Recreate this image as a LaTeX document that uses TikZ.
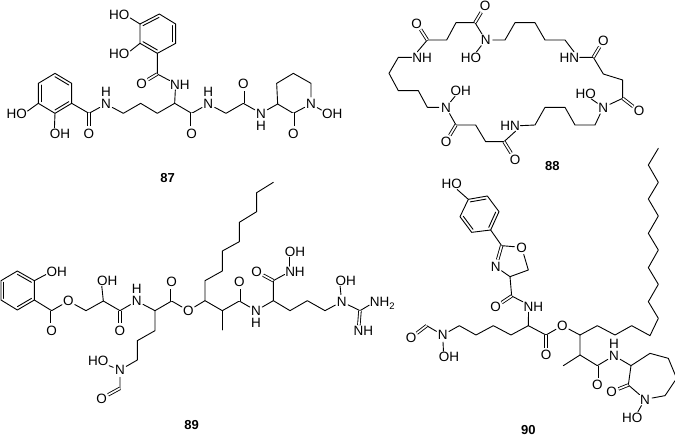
\documentclass[tikz,border=0pt]{standalone}
\usepackage{fontspec}
\setmainfont{Liberation Sans}
\usetikzlibrary{calc}
\tikzset{
  lab/.style={font=\fontsize{13.5}{13.5}\selectfont,text height=9.7pt,text depth=0pt},
  bond/.style={line width=.9pt,line cap=round,line join=round},
  dbl/.style={line width=.85pt,double,double distance=1.7pt},
  atom/.style={lab,circle,inner sep=0pt,minimum size=14pt},
  grp/.style={lab,rectangle,inner sep=.5pt},
  hyd/.style={lab,inner sep=0pt},
  cpd/.style={inner sep=0pt,font=\fontsize{13}{13}\selectfont\bfseries},
  zoomed/.style={x=.33333pt,y=-.33333pt}
}
\newcommand{\Cs}[1]{\foreach \n/\x/\y in {#1} {\coordinate (\n) at (\x,\y);}}
\newcommand{\inbond}[3]{\draw[bond] ($(#1)!.17!(#3)$) -- ($(#2)!.17!(#3)$);}
\newcommand{\subtwo}{\raisebox{-2.5pt}{\fontsize{9.5}{9.5}\selectfont 2}}
\begin{document}
\begin{tikzpicture}[x=1pt,y=-1pt]
\useasboundingbox (0,0) rectangle (675,437);
\fill[white] (0,0) rectangle (675,437);
% ---------- 87 ----------
\begin{scope}[zoomed]
\Cs{a1/478/42,a2/527/72,a3/527/130,a4/472/160,a5/420/130,a6/420/72,ac/473/101,
a7/472/222,a8/524/310,a9/575/340,a10/678/340,a11/730/310,a12/833/312,a13/880/340,
a14/933/250,a15/880/220,a16/830/250,
b1/115/250,b2/165/220,b3/215/250,b4/215/310,b5/165/340,b6/115/310,bc/165/280,
b7/267/340,b8/370/340,b9/422/310,b10/472/340}
\node[grp] (aho1) at (358,45) {HO};
\node[grp] (aho2) at (358,162) {HO};
\node[atom] (ao1) at (425,250) {O};
\node[grp] (anh1) at (540,253) {NH};
\node[atom] (ao2) at (575,400) {O};
\node[atom] (an2) at (625,312) {N};
\node[hyd] (ah2) at (625,275) {H};
\node[atom] (ao3) at (730,252) {O};
\node[atom] (an3) at (783,340) {N};
\node[hyd] (ah3) at (783,378) {H};
\node[atom] (ao4) at (880,400) {O};
\node[atom] (an4) at (933,312) {N};
\node[grp] (aoh) at (997,342) {OH};
\node[grp] (bho) at (50,342) {HO};
\node[grp] (boh) at (180,400) {OH};
\node[atom] (bo1) at (267,400) {O};
\node[atom] (bn) at (318,312) {N};
\node[hyd] (bh) at (318,275) {H};
\node[cpd] (l87) at (503,533) {87};
\draw[bond] (a1) -- (a2) -- (a3) -- (a4) -- (a5) -- (a6) -- cycle;
\inbond{a6}{a1}{ac}\inbond{a2}{a3}{ac}\inbond{a4}{a5}{ac}
\draw[bond] (a6) -- (aho1.-15);
\draw[bond] (a5) -- (aho2.15);
\draw[bond] (a4) -- (a7) -- (anh1.160);
\draw[dbl] (a7) -- (ao1);
\draw[bond] (anh1.-130) -- (a8) -- (a9) -- (an2) -- (a10) -- (a11) -- (an3) -- (a12) -- (a13) -- (an4) -- (a14) -- (a15) -- (a16) -- (a12);
\draw[dbl] (a9) -- (ao2);
\draw[dbl] (a11) -- (ao3);
\draw[dbl] (a13) -- (ao4);
\draw[bond] (an4) -- (aoh.160);
\draw[bond] (b1) -- (b2) -- (b3) -- (b4) -- (b5) -- (b6) -- cycle;
\inbond{b2}{b3}{bc}\inbond{b4}{b5}{bc}\inbond{b6}{b1}{bc}
\draw[bond] (b6) -- (bho.15);
\draw[bond] (b5) -- (boh.135);
\draw[bond] (b4) -- (b7) -- (bn) -- (b8) -- (b9) -- (b10) -- (a8);
\draw[dbl] (b7) -- (bo1);
\end{scope}
% ---------- 88 ----------
\begin{scope}[shift={(340pt,0pt)},zoomed]
\Cs{c1/262/120,c2/320/120,c3/348/68,c4/405/68,c5/495/120,c6/525/68,c7/585/68,c8/615/120,c9/675/120,
c10/760/172,c11/790/222,c12/848/240,c13/848/295,c14/765/375,c15/705/375,c16/675/322,c17/615/322,c18/585/375,
c19/492/425,c20/437/425,c21/407/375,c22/348/375,c23/262/322,c24/235/272,c25/175/272,c26/147/220,c27/175/172}
\node[atom] (co1) at (230,70) {O};
\node[grp] (cnh1) at (246,172) {NH};
\node[atom] (co2) at (435,18) {O};
\node[atom] (cn1) at (437,120) {N};
\node[grp] (cho1) at (393,172) {HO};
\node[grp] (chn1) at (688,172) {HN};
\node[atom] (co3) at (790,122) {O};
\node[atom] (co4) at (897,333) {O};
\node[atom] (cn2) at (790,322) {N};
\node[grp] (cho2) at (737,280) {HO};
\node[grp] (chn2) at (510,377) {HN};
\node[atom] (co5) at (525,478) {O};
\node[atom] (co6) at (318,425) {O};
\node[atom] (cn3) at (318,322) {N};
\node[grp] (coh3) at (362,272) {OH};
\node[cpd] (l88) at (637,497) {88};
\draw[bond] (cnh1.130) -- (c1) -- (c2) -- (c3) -- (c4) -- (cn1) -- (c5) -- (c6) -- (c7) -- (c8) -- (c9) -- (chn1.50);
\draw[bond] (chn1.east) -- (c10) -- (c11) -- (c12) -- (c13) -- (cn2) -- (c14) -- (c15) -- (c16) -- (c17) -- (c18) -- (chn2.east);
\draw[bond] (chn2.-45) -- (c19) -- (c20) -- (c21) -- (c22) -- (cn3) -- (c23) -- (c24) -- (c25) -- (c26) -- (c27) -- (cnh1.west);
\draw[dbl] (c1) -- (co1);
\draw[dbl] (c4) -- (co2);
\draw[dbl] (c10) -- (co3);
\draw[dbl] (c13) -- (co4);
\draw[dbl] (c19) -- (co5);
\draw[dbl] (c22) -- (co6);
\draw[bond] (cn1) -- (cho1.45);
\draw[bond] (cn2) -- (cho2.-45);
\draw[bond] (cn3) -- (coh3.-135);
\end{scope}
% ---------- 89 ----------
\begin{scope}[shift={(0pt,-190pt)},zoomed]
\Cs{e1/52/243,e2/103/272,e3/103/330,e4/52/360,e5/3/330,e6/3/272,ec/53/301,
e7/155/362,e8/258/362,e9/310/333,e10/360/362,e11/465/362,e12/515/333,
e13/465/422,e14/412/452,e15/412/510,e16/360/595}
\node[grp] (eoh1) at (170,245) {OH};
\node[atom] (eo1) at (155,422) {O};
\node[atom] (eo2) at (205,333) {O};
\node[grp] (eoh2) at (322,272) {OH};
\node[atom] (eo3) at (360,422) {O};
\node[atom] (en1) at (410,333) {N};
\node[hyd] (eh1) at (410,297) {H};
\node[atom] (eo4) at (515,275) {O};
\node[atom] (eo5) at (565,362) {O};
\node[atom] (en2) at (360,540) {N};
\node[grp] (eho) at (295,512) {HO};
\node[atom] (eo6) at (305,625) {O};
\node[cpd] (l89) at (575,705) {89};
\end{scope}
\begin{scope}[shift={(190pt,-190pt)},zoomed]
\Cs{f1/45/332,f2/45/272,f3/97/243,f4/97/183,f5/148/155,f6/148/97,f7/200/65,f8/200/8,f9/250/-23,
f10/97/362,f11/97/420,f12/148/333,f13/250/332,f14/250/272,f15/300/362,f16/352/332,f17/405/362,f18/510/362}
\node[atom] (fo1) at (148,275) {O};
\node[atom] (fn1) at (198,362) {N};
\node[hyd] (fh1) at (198,398) {H};
\node[atom] (fo2) at (200,245) {O};
\node[grp] (fnh) at (315,245) {NH};
\node[grp] (foh1) at (315,185) {OH};
\node[atom] (fn2) at (455,335) {N};
\node[grp] (foh2) at (467,272) {OH};
\node[grp] (fnh2) at (577,335) {NH\subtwo};
\node[grp] (fnh3) at (520,422) {NH};
\end{scope}
\draw[bond] (e1) -- (e2) -- (e3) -- (e4) -- (e5) -- (e6) -- cycle;
\inbond{e1}{e2}{ec}\inbond{e3}{e4}{ec}\inbond{e5}{e6}{ec}
\draw[bond] (e2) -- (eoh1.195);
\draw[bond] (e3) -- (e7) -- (eo2) -- (e8) -- (e9) -- (e10) -- (en1) -- (e11) -- (e12) -- (eo5) -- (f1) -- (f2) -- (f3) -- (f4) -- (f5) -- (f6) -- (f7) -- (f8) -- (f9);
\draw[dbl] (e7) -- (eo1);
\draw[bond] (e9) -- (eoh2.-135);
\draw[dbl] (e10) -- (eo3);
\draw[dbl] (e12) -- (eo4);
\draw[bond] (e11) -- (e13) -- (e14) -- (e15) -- (en2) -- (e16);
\draw[bond] (en2) -- (eho.-25);
\draw[dbl] (e16) -- (eo6);
\draw[bond] (f1) -- (f10) -- (f12) -- (fn1) -- (f13) -- (f14) -- (fnh.195);
\draw[bond] (f10) -- (f11);
\draw[dbl] (f12) -- (fo1);
\draw[dbl] (f14) -- (fo2);
\draw[bond] (fnh.135) -- (foh1.-135);
\draw[bond] (f13) -- (f15) -- (f16) -- (f17) -- (fn2) -- (f18) -- (fnh2.195);
\draw[bond] (fn2) -- (foh2.-135);
\draw[dbl] (f18) -- (fnh3.129);
% ---------- 90 ----------
\begin{scope}[shift={(400pt,-170pt)},zoomed]
\Cs{g1/205/88,g2/262/78,g3/297/125,g4/272/180,g5/215/187,g6/180/140,gc/238/133,
g7/305/227,g8/385/300,g9/330/320,g10/335/378,g11/385/467,g12/438/495,g13/333/495,g14/280/467,g15/228/495,g16/178/467,
g17/80/467,g18/540/495,g19/540/555,g20/490/587,g21/592/587,g22/693/587,g23/685/645,g24/795/677,g25/830/625,g26/805/565,g27/750/550,
h1/592/467,h2/645/495,h3/695/467,h4/750/497,h5/775/445,h6/745/395,h7/775/343,h8/745/293,h9/775/240,h10/745/190,h11/775/138,h12/745/87,h13/775/37,h14/745/-15,h15/775/-65}
\node[grp] (dho) at (155,42) {HO};
\node[atom] (do1) at (365,232) {O};
\node[atom] (dn1) at (287,290) {N};
\node[atom] (do2) at (287,410) {O};
\node[grp] (dnh) at (400,410) {NH};
\node[atom] (do3) at (438,555) {O};
\node[atom] (do4) at (487,467) {O};
\node[atom] (dn2) at (128,495) {N};
\node[grp] (doh) at (147,560) {OH};
\node[atom] (do5) at (33,503) {O};
\node[atom] (do6) at (592,645) {O};
\node[atom] (dn3) at (642,557) {N};
\node[hyd] (dh3) at (642,520) {H};
\node[atom] (do7) at (635,665) {O};
\node[atom] (dn4) at (735,688) {N};
\node[grp] (dho2) at (697,742) {HO};
\node[cpd] (l90) at (385,779) {90};
\draw[bond] (g1) -- (g2) -- (g3) -- (g4) -- (g5) -- (g6) -- cycle;
\inbond{g1}{g2}{gc}\inbond{g3}{g4}{gc}\inbond{g5}{g6}{gc}
\draw[bond] (g1) -- (dho.-45);
\draw[bond] (g4) -- (g7) -- (do1) -- (g8) -- (g9) -- (dn1);
\draw[dbl] (g7) -- (dn1);
\draw[bond] (g9) -- (g10) -- (dnh.155);
\draw[dbl] (g10) -- (do2);
\draw[bond] (dnh.-131) -- (g11) -- (g12) -- (do4) -- (g18);
\draw[dbl] (g12) -- (do3);
\draw[bond] (g11) -- (g13) -- (g14) -- (g15) -- (g16) -- (dn2) -- (g17);
\draw[dbl] (g17) -- (do5);
\draw[bond] (dn2) -- (doh.135);
\draw[bond] (g18) -- (g19) -- (g21) -- (dn3) -- (g22) -- (g23) -- (dn4) -- (g24) -- (g25) -- (g26) -- (g27) -- (g22);
\draw[bond] (g19) -- (g20);
\draw[dbl] (g21) -- (do6);
\draw[dbl] (g23) -- (do7);
\draw[bond] (dn4) -- (dho2.45);
\draw[bond] (g18) -- (h1) -- (h2) -- (h3) -- (h4) -- (h5) -- (h6) -- (h7) -- (h8) -- (h9) -- (h10) -- (h11) -- (h12) -- (h13) -- (h14) -- (h15);
\end{scope}
\end{tikzpicture}
\end{document}
